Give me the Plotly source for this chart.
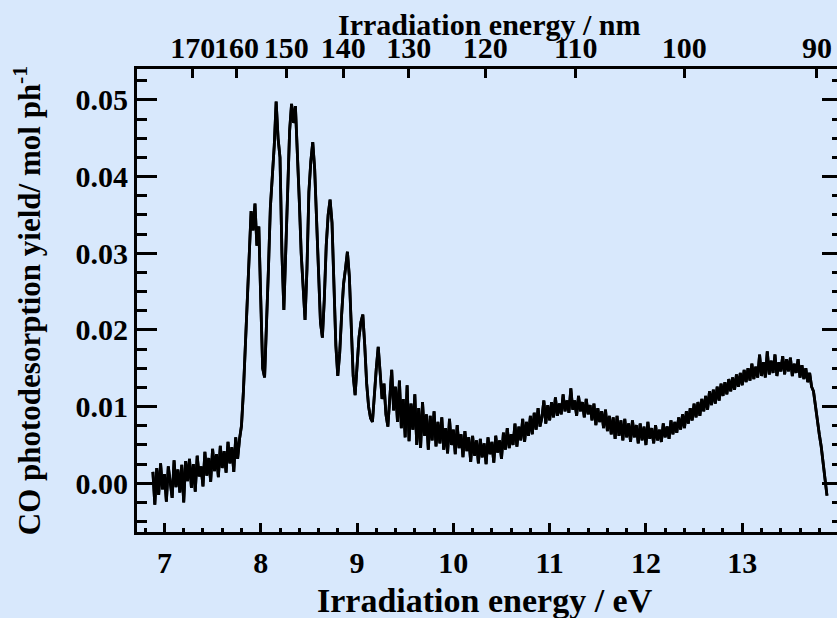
import plotly.graph_objects as go

# ---- data ----
STEP = 0.02  # eV sampling step of the spectrum

# segment starting at 6.88 eV (pre-onset baseline)
onset_start = 6.88
onset_y = [0.0015, -0.0028, 0.0020, -0.0015, 0.0026, -0.0008, 0.0012, -0.0024, 0.0022, 0.0001,
           -0.0019, 0.0030, -0.0005, 0.0018, -0.0012, 0.0024, -0.0025, 0.0029, 0.0003, 0.0032,
           -0.0006, 0.0025, -0.0011, 0.0036, 0.0009, 0.0022, -0.0004, 0.0041, 0.0010, 0.0033,
           0.0002, 0.0045, 0.0016, 0.0038, 0.0008, 0.0049, 0.0020, 0.0042, 0.0014, 0.0054,
           0.0026, 0.0047, 0.0015, 0.0060, 0.0032, 0.0058]

# segment starting at 7.80 eV (vibronic band region)
bands_start = 7.80
bands_y = [0.0075, 0.0120, 0.0180, 0.0240, 0.0300, 0.0355, 0.0330, 0.0365, 0.0310, 0.0335,
           0.0240, 0.0150, 0.0138, 0.0200, 0.0280, 0.0360, 0.0400, 0.0440, 0.0498, 0.0450,
           0.0425, 0.0300, 0.0226, 0.0300, 0.0400, 0.0460, 0.0495, 0.0470, 0.0492, 0.0440,
           0.0370, 0.0300, 0.0260, 0.0213, 0.0280, 0.0380, 0.0420, 0.0445, 0.0410, 0.0340,
           0.0270, 0.0210, 0.0190, 0.0240, 0.0310, 0.0350, 0.0370, 0.0340, 0.0260, 0.0180,
           0.0140, 0.0170, 0.0220, 0.0260, 0.0280, 0.0302, 0.0270, 0.0200, 0.0140, 0.0115,
           0.0160, 0.0190, 0.0210, 0.0220, 0.0180, 0.0130, 0.0100, 0.0085, 0.0080, 0.0120,
           0.0150, 0.0178, 0.0140, 0.0110, 0.0130, 0.0090, 0.0074, 0.0110]

# segment starting at 9.36 eV (decaying tail)
tail_start = 9.36
tail_y = [0.0148, 0.0095, 0.0126, 0.0080, 0.0134, 0.0072, 0.0110, 0.0060, 0.0128, 0.0055,
          0.0104, 0.0070, 0.0116, 0.0050, 0.0098, 0.0046, 0.0106, 0.0062, 0.0090, 0.0044,
          0.0088, 0.0056, 0.0094]

# segment starting at 9.82 eV (minimum near 10.3 eV)
valley_start = 9.82
valley_y = [0.0048, 0.0080, 0.0052, 0.0086, 0.0044, 0.0072, 0.0039, 0.0084, 0.0050, 0.0070,
            0.0038, 0.0076, 0.0046, 0.0064, 0.0034, 0.0068, 0.0042, 0.0060, 0.0028, 0.0062,
            0.0036, 0.0056, 0.0026, 0.0058, 0.0034, 0.0052, 0.0025, 0.0060, 0.0038, 0.0054,
            0.0027, 0.0062, 0.0040, 0.0056, 0.0032, 0.0066, 0.0044, 0.0072, 0.0046, 0.0064,
            0.0050, 0.0078, 0.0048, 0.0074, 0.0056, 0.0084, 0.0054, 0.0080, 0.0062, 0.0088]

# segment starting at 10.82 eV (hump near 11.2 eV)
hump_start = 10.82
hump_y = [0.0064, 0.0092, 0.0070, 0.0098, 0.0074, 0.0086, 0.0108, 0.0078, 0.0102, 0.0082,
          0.0106, 0.0086, 0.0112, 0.0088, 0.0104, 0.0090, 0.0116, 0.0094, 0.0108, 0.0092,
          0.0124, 0.0096, 0.0108, 0.0088, 0.0114, 0.0094, 0.0106, 0.0086, 0.0110, 0.0090,
          0.0102, 0.0082, 0.0104, 0.0076, 0.0098, 0.0080, 0.0094, 0.0072, 0.0096, 0.0068,
          0.0088, 0.0064, 0.0086, 0.0058, 0.0088, 0.0062, 0.0082, 0.0056, 0.0084, 0.0060,
          0.0078, 0.0054, 0.0082, 0.0060, 0.0076]

# segment starting at 11.92 eV (flat region)
flat_start = 11.92
flat_y = [0.0052, 0.0078, 0.0056, 0.0074, 0.0050, 0.0080, 0.0058, 0.0072, 0.0052, 0.0076,
          0.0056, 0.0070, 0.0054, 0.0078, 0.0060, 0.0074, 0.0058, 0.0082, 0.0064, 0.0080]

# segment starting at 12.32 eV (broad band near 13.4 eV)
rise_start = 12.32
rise_y = [0.0066, 0.0086, 0.0070, 0.0090, 0.0072, 0.0094, 0.0078, 0.0098, 0.0082, 0.0104,
          0.0086, 0.0106, 0.0088, 0.0110, 0.0094, 0.0114, 0.0096, 0.0120, 0.0102, 0.0122,
          0.0104, 0.0126, 0.0108, 0.0130, 0.0114, 0.0132, 0.0116, 0.0136, 0.0120, 0.0138,
          0.0122, 0.0142, 0.0126, 0.0144, 0.0128, 0.0148, 0.0132, 0.0150, 0.0134, 0.0156,
          0.0136, 0.0152, 0.0138, 0.0168, 0.0140, 0.0158, 0.0138, 0.0172, 0.0142, 0.0160,
          0.0144, 0.0168, 0.0140, 0.0158, 0.0146, 0.0166, 0.0142, 0.0162, 0.0146, 0.0164,
          0.0140, 0.0156, 0.0144, 0.0162, 0.0138, 0.0154, 0.0136, 0.0150, 0.0132, 0.0144]

# segment starting at 13.72 eV (cut-off)
cutoff_start = 13.72
cutoff_y = [0.0126, 0.0120, 0.0100, 0.0086, 0.0064, 0.0048, 0.0028, 0.0004, -0.0016]

segments = [(onset_start, onset_y), (bands_start, bands_y), (tail_start, tail_y),
            (valley_start, valley_y), (hump_start, hump_y), (flat_start, flat_y),
            (rise_start, rise_y), (cutoff_start, cutoff_y)]

energy_ev = []
yield_val = []
for start, vals in segments:
    for k, v in enumerate(vals):
        energy_ev.append(round(start + STEP * k, 4))
        yield_val.append(v)

x_ticks_ev = [7, 8, 9, 10, 11, 12, 13]
y_ticks = [0.00, 0.01, 0.02, 0.03, 0.04, 0.05]
nm_ticks = [170, 160, 150, 140, 130, 120, 110, 100, 90]
HC = 1239.84  # eV*nm

x_range = [6.715, 13.984]
y_range = [-0.00635, 0.05404]

# ---- style ----
BG = "#d8e8fc"
FONT = "Liberation Serif"
LW = 3

fig = go.Figure()
# main spectrum (bottom eV axis / left axis)
fig.add_trace(go.Scatter(x=energy_ev, y=yield_val, mode="lines", hoverinfo="skip",
                         line=dict(color="black", width=2.8), showlegend=False))
# same spectrum drawn on the overlaid top/right axes so those axes are rendered
fig.add_trace(go.Scatter(x=energy_ev, y=yield_val, mode="lines", xaxis="x2", yaxis="y2",
                         line=dict(color="black", width=2.8), showlegend=False))

tickfont = dict(family=FONT, size=30, color="black", weight="bold")

fig.update_layout(
    width=837, height=618,
    margin=dict(l=137, r=0, t=69, b=86, autoexpand=False),
    paper_bgcolor=BG, plot_bgcolor=BG,
    showlegend=False,
    xaxis=dict(
        range=x_range, tickvals=x_ticks_ev, ticktext=[str(v) for v in x_ticks_ev],
        ticks="inside", ticklen=9, tickwidth=LW, tickcolor="black",
        minor=dict(dtick=0.2, tick0=7, ticks="inside", ticklen=4, tickwidth=LW, tickcolor="black"),
        showline=True, linewidth=LW, linecolor="black", mirror=False,
        showgrid=False, zeroline=False, tickangle=0,
        tickfont=tickfont, ticklabelstandoff=2,
        automargin=False,
    ),
    xaxis2=dict(
        range=x_range, overlaying="x", side="top", anchor="y2",
        tickvals=[HC / n for n in nm_ticks], ticktext=[str(n) for n in nm_ticks],
        ticks="inside", ticklen=9, tickwidth=LW, tickcolor="black",
        showline=True, linewidth=LW, linecolor="black",
        showgrid=False, zeroline=False, tickangle=0,
        tickfont=tickfont, ticklabelstandoff=-4,
        automargin=False,
    ),
    yaxis=dict(
        range=y_range, tickvals=y_ticks, tickformat=".2f",
        ticks="inside", ticklen=20, tickwidth=LW, tickcolor="black",
        minor=dict(dtick=0.0025, tick0=0, ticks="inside", ticklen=10, tickwidth=LW, tickcolor="black"),
        showline=True, linewidth=LW, linecolor="black", mirror=False,
        showgrid=False, zeroline=False,
        tickfont=tickfont, ticklabelstandoff=0,
        title=dict(text="CO photodesorption yield/ mol ph<sup>-1</sup>",
                   font=dict(family=FONT, size=31, color="black", weight="bold"),
                   standoff=26),
        automargin=False,
    ),
    yaxis2=dict(
        range=y_range, overlaying="y", side="right", anchor="x2",
        tickvals=y_ticks, showticklabels=False,
        ticks="inside", ticklen=15, tickwidth=LW, tickcolor="black",
        minor=dict(dtick=0.0025, tick0=0, ticks="inside", ticklen=5, tickwidth=LW, tickcolor="black"),
        showline=False, showgrid=False, zeroline=False,
    ),
    annotations=[
        dict(text="Irradiation energy / nm", xref="paper", yref="paper",
             x=0.503, y=1.0 + (69 - 43) / 463, xanchor="center", yanchor="bottom",
             showarrow=False, font=dict(family=FONT, size=30, color="black", weight="bold")),
        dict(text="Irradiation energy / eV", xref="paper", yref="paper",
             x=0.497, y=-(621 - 532) / 463, xanchor="center", yanchor="bottom",
             showarrow=False, font=dict(family=FONT, size=34, color="black", weight="bold")),
    ],
)

fig.write_html("out.html")
